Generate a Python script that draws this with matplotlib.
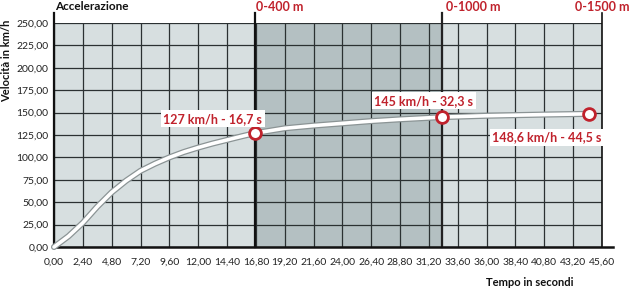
import matplotlib
matplotlib.use("Agg")
import matplotlib.pyplot as plt
from matplotlib.lines import Line2D

plt.rcParams['font.family'] = ['Lato', 'DejaVu Sans']

# dati
tempo = [0, 1.2, 2.4, 3.6, 4.8, 6.0, 7.2, 8.4, 9.6, 10.8, 12.0, 13.2, 14.4, 15.6, 16.7,
         19.2, 21.6, 24.0, 26.4, 28.8, 31.2, 32.3, 36.0, 40.8, 44.5]
velocita = [0, 12, 27, 45, 61, 74, 85, 93, 100, 106, 111, 115.5, 119.5, 123.5, 127,
            132.5, 135.5, 138, 140.5, 142.5, 144.2, 145, 146.5, 147.8, 148.6]

x_ticks = [i * 2.4 for i in range(20)]
y_ticks = [i * 25 for i in range(11)]

traguardi_t = [16.7, 32.3, 44.5]
traguardi_v = [127, 145, 148.6]
traguardi_txt = ["127 km/h - 16,7 s", "145 km/h - 32,3 s", "148,6 km/h - 44,5 s"]
distanze = ["0-400 m", "0-1000 m", "0-1500 m"]

ROSSO = '#c0222c'
CHIARO = '#d7dfe0'
SCURO = '#b4c0c2'
GRIGLIA = '#2b3132'

fig = plt.figure(figsize=(6.3, 2.9), dpi=100)
ax = fig.add_axes([54/630, 1 - 247/290, (602 - 54)/630, (247 - 23)/290])
ax.set_xlim(0, 45.6)
ax.set_ylim(0, 250)
ax.set_facecolor(CHIARO)

# zona scura tra 400 m e 1000 m
ax.axvspan(traguardi_t[0], traguardi_t[1], color=SCURO, zorder=0)

for xt in x_ticks:
    ax.axvline(xt, color=GRIGLIA, lw=0.9, zorder=1)
for yt in y_ticks:
    ax.axhline(yt, color=GRIGLIA, lw=0.9, zorder=1)

for s in ax.spines.values():
    s.set_visible(False)

ax.set_xticks(x_ticks)
ax.set_xticklabels([f"{v:.2f}".replace('.', ',') for v in x_ticks], fontsize=7.5, color='#222222')
ax.set_yticks(y_ticks)
ax.set_yticklabels([f"{v:.2f}".replace('.', ',') for v in y_ticks], fontsize=7.5, color='#222222')
ax.tick_params(axis='x', length=0, pad=8)
ax.tick_params(axis='y', length=0, pad=4)

# linee verticali dei traguardi, prolungate sopra il grafico
tr = ax.get_xaxis_transform()
ax.add_line(Line2D([0, 0], [0, 1.045], transform=tr, color='#111111', lw=1.6, clip_on=False, zorder=3))
ax.add_line(Line2D([traguardi_t[0]] * 2, [0, 1.045], transform=tr, color='#111111', lw=1.6, clip_on=False, zorder=3))
ax.add_line(Line2D([traguardi_t[1]] * 2, [0, 1.045], transform=tr, color='#222222', lw=1.6, clip_on=False, zorder=3))
ax.add_line(Line2D([45.6] * 2, [0, 1.045], transform=tr, color='#111111', lw=1.2, clip_on=False, zorder=3))
ax.add_line(Line2D([0, 46.5], [0, 0], transform=ax.transData, color='#111111', lw=1.8, clip_on=False, zorder=3))

# curva a "tubo"
ax.plot(tempo, velocita, color='#8b9495', lw=4.4, solid_capstyle='round', zorder=4, clip_on=False)
ax.plot(tempo, velocita, color='white', lw=2.6, solid_capstyle='round', zorder=5, clip_on=False)

ax.plot(traguardi_t, traguardi_v, 'o', ms=8.5, mfc='white', mec=ROSSO, mew=2, zorder=6, clip_on=False)

pos_txt = [(13.2, 143), (30.75, 163), (41.0, 122.5)]
for (xt, yt), txt in zip(pos_txt, traguardi_txt):
    ax.text(xt, yt, txt, ha='center', va='center', fontsize=9, fontweight='bold', color=ROSSO,
            bbox=dict(boxstyle='square,pad=0.2', fc='white', ec='none'), zorder=7)

# titoli in alto
ax.text(0.1, 1.072, "Accelerazione", transform=tr, ha='left', va='center',
        fontsize=8.5, fontweight='bold', color='#111111')
ax.text(traguardi_t[0] + 0.1, 1.072, distanze[0], transform=tr, ha='left', va='center',
        fontsize=9, fontweight='bold', color=ROSSO)
ax.text(traguardi_t[1] + 0.3, 1.072, distanze[1], transform=tr, ha='left', va='center',
        fontsize=9, fontweight='bold', color=ROSSO)
ax.text(45.6, 1.072, distanze[2], transform=tr, ha='center', va='center',
        fontsize=9, fontweight='bold', color=ROSSO)

fig.text(7/630, 1 - 61/290, "Velocità in km/h", rotation=90, ha='center', va='center',
         fontsize=8, fontweight='bold', color='#111111')
fig.text(530/630, 1 - 283/290, "Tempo in secondi", ha='center', va='center',
         fontsize=8, fontweight='bold', color='#111111')

fig.savefig("out.png", dpi=100, facecolor='white')
